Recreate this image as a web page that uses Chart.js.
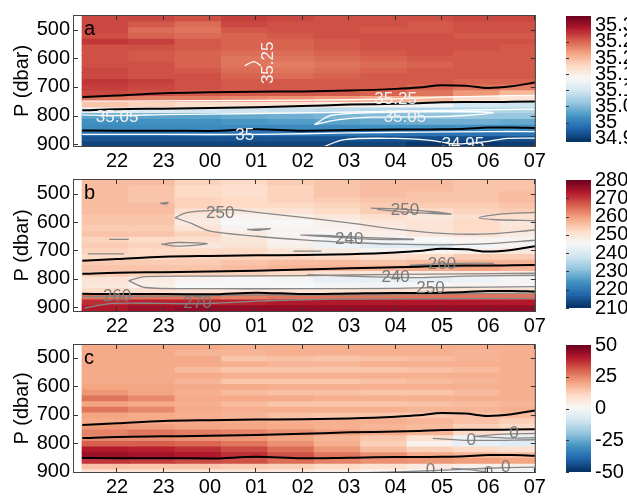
<!DOCTYPE html>
<html>
<head>
<meta charset="utf-8">
<script src="https://cdn.jsdelivr.net/npm/chart.js@4.4.1/dist/chart.umd.min.js"></script>
<style>
    html, body { margin: 0; padding: 0; width: 627px; height: 500px; overflow: hidden; background: #fff; }
    canvas { position: absolute; }
</style>
</head>
<body>
<canvas id="panelA"></canvas>
<canvas id="panelB"></canvas>
<canvas id="panelC"></canvas>
<canvas id="barA"></canvas>
<canvas id="barB"></canvas>
<canvas id="barC"></canvas>
<script>
// time in hours from 00 of the first day (00 = 24, 07 = 31)
const colHours = [21.75, 22.75, 23.75, 24.75, 25.75, 26.75, 27.75, 28.75, 29.75, 30.75];
const rowTops = [450, 470, 490, 510, 530, 550, 570, 590, 610, 630, 650, 670, 690, 710, 730, 750, 770, 790, 810, 830, 850, 870, 890, 910];
const rowStep = 20;

const xTickHours = [22, 23, 24, 25, 26, 27, 28, 29, 30, 31];
const xTickLabels = ['22', '23', '00', '01', '02', '03', '04', '05', '06', '07'];
const yTicks = [500, 600, 700, 800, 900];

// panel a
const salinity = [
    [35.265, 35.265, 35.26, 35.27, 35.265, 35.26, 35.26, 35.26, 35.265, 35.265],
    [35.265, 35.255, 35.245, 35.265, 35.26, 35.26, 35.26, 35.255, 35.26, 35.26],
    [35.265, 35.245, 35.24, 35.255, 35.26, 35.26, 35.255, 35.255, 35.26, 35.26],
    [35.26, 35.25, 35.245, 35.25, 35.255, 35.26, 35.26, 35.26, 35.255, 35.255],
    [35.275, 35.27, 35.255, 35.25, 35.25, 35.255, 35.26, 35.26, 35.26, 35.26],
    [35.26, 35.26, 35.255, 35.25, 35.25, 35.255, 35.26, 35.26, 35.26, 35.255],
    [35.26, 35.255, 35.25, 35.245, 35.245, 35.25, 35.255, 35.26, 35.255, 35.255],
    [35.26, 35.255, 35.25, 35.24, 35.24, 35.245, 35.25, 35.255, 35.255, 35.255],
    [35.26, 35.26, 35.25, 35.24, 35.235, 35.24, 35.245, 35.25, 35.255, 35.255],
    [35.265, 35.26, 35.255, 35.245, 35.24, 35.245, 35.25, 35.255, 35.255, 35.255],
    [35.265, 35.26, 35.26, 35.25, 35.245, 35.25, 35.255, 35.255, 35.255, 35.255],
    [35.275, 35.27, 35.26, 35.255, 35.255, 35.255, 35.255, 35.255, 35.25, 35.25],
    [35.27, 35.265, 35.26, 35.255, 35.255, 35.255, 35.255, 35.25, 35.24, 35.235],
    [35.265, 35.26, 35.255, 35.255, 35.255, 35.255, 35.25, 35.24, 35.22, 35.2],
    [35.24, 35.235, 35.235, 35.23, 35.225, 35.22, 35.21, 35.2, 35.17, 35.16],
    [35.19, 35.18, 35.17, 35.165, 35.16, 35.15, 35.14, 35.13, 35.1, 35.095],
    [35.12, 35.11, 35.1, 35.095, 35.09, 35.085, 35.08, 35.075, 35.075, 35.075],
    [35.03, 35.03, 35.03, 35.035, 35.04, 35.045, 35.05, 35.055, 35.06, 35.06],
    [35.015, 35.015, 35.015, 35.02, 35.025, 35.03, 35.035, 35.04, 35.04, 35.035],
    [35.01, 35.01, 35.01, 35.01, 35.01, 35.01, 35.015, 35.015, 35.015, 35.015],
    [34.99, 34.99, 34.99, 34.99, 34.99, 34.99, 34.99, 34.99, 34.99, 34.99],
    [34.965, 34.965, 34.965, 34.965, 34.965, 34.965, 34.965, 34.96, 34.96, 34.96],
    [34.955, 34.955, 34.955, 34.955, 34.955, 34.955, 34.955, 34.945, 34.945, 34.95],
    [34.95, 34.95, 34.95, 34.95, 34.95, 34.945, 34.945, 34.945, 34.945, 34.945]
];

// panel b
const fieldB = [
    [256, 256, 253, 252, 254, 255, 256, 256, 255, 255],
    [256, 255, 252, 251, 253, 255, 256, 256, 255, 255],
    [256, 255, 252, 251, 253, 255, 256, 255, 255, 256],
    [256, 255, 253, 252, 253, 254, 255, 255, 255, 256],
    [256, 256, 253, 252, 252, 253, 254, 254, 254, 255],
    [256, 256, 251, 249, 250, 252, 254, 252, 253, 254],
    [255, 255, 249, 246, 247, 249, 251, 249, 251, 251],
    [255, 255, 248, 245, 245, 247, 249, 250, 252, 249],
    [254, 254, 250, 246, 246, 246, 248, 250, 252, 250],
    [255, 255, 253, 248, 246, 245, 247, 249, 251, 248],
    [253, 252, 251, 249, 246, 244, 244, 245, 246, 246],
    [254, 253, 249, 250, 247, 243, 241, 241, 244, 246],
    [253, 252, 252, 252, 250, 248, 246, 246, 247, 249],
    [252, 252, 253, 253, 253, 252, 251, 252, 254, 254],
    [254, 254, 254, 255, 256, 256, 255, 256, 257, 257],
    [255, 255, 255, 256, 257, 257, 257, 258, 259, 257],
    [254, 253, 253, 253, 252, 250, 249, 248, 248, 248],
    [250, 248, 246, 245, 244, 242, 242, 242, 243, 244],
    [249, 247, 245, 245, 245, 244, 244, 245, 246, 246],
    [252, 251, 250, 250, 250, 250, 251, 250, 250, 250],
    [264, 264, 264, 263, 264, 264, 264, 264, 264, 264],
    [271, 272, 272, 272, 273, 273, 273, 273, 273, 273],
    [273, 275, 276, 276, 276, 276, 276, 276, 276, 276],
    [274, 276, 277, 277, 277, 277, 277, 277, 277, 277]
];

// panel c
const fieldC = [
    [19, 19, 19, 18, 18, 18, 18, 18, 18, 18],
    [19, 19, 17, 17, 18, 18, 18, 18, 17, 18],
    [19, 19, 19, 14, 15, 14, 15, 16, 17, 18],
    [19, 19, 19, 18, 17, 17, 18, 18, 18, 18],
    [19, 19, 16, 14, 14, 14, 14, 15, 16, 18],
    [19, 19, 19, 18, 18, 18, 18, 18, 18, 18],
    [19, 19, 17, 14, 14, 14, 15, 16, 17, 18],
    [20, 20, 19, 19, 18, 18, 18, 18, 18, 18],
    [22, 20, 18, 16, 15, 15, 14, 14, 16, 18],
    [27, 24, 19, 19, 19, 18, 18, 18, 18, 18],
    [20, 19, 18, 16, 14, 14, 14, 15, 16, 17],
    [27, 24, 19, 18, 18, 18, 18, 17, 17, 18],
    [20, 19, 18, 17, 15, 14, 14, 14, 15, 16],
    [19, 19, 19, 19, 18, 18, 18, 17, 15, 12],
    [22, 21, 20, 20, 19, 18, 17, 16, 12, 10],
    [25, 27, 26, 25, 23, 21, 19, 17, 10, 5],
    [24, 24, 23, 22, 20, 17, 14, 8, -2, -4],
    [30, 30, 29, 27, 23, 18, 12, 2, -4, -6],
    [40, 39, 37, 33, 28, 22, 16, 12, 10, 8],
    [43, 42, 40, 37, 32, 27, 23, 19, 17, 16],
    [36, 35, 33, 32, 28, 25, 23, 22, 21, 20],
    [15, 14, 14, 13, 12, 10, 8, 5, 3, 3],
    [8, 8, 7, 7, 6, 4, 2, 0, -3, -2],
    [6, 6, 5, 5, 4, 2, 0, -2, -4, -4]
];

// the three black lines, same in every panel
const isoHours = [21.25, 22, 23, 24, 25, 26, 27, 28, 28.5, 29, 29.5, 30, 30.5, 31];
const isoUpper = [736, 730, 722, 719, 717, 716, 713, 707, 702, 694, 696, 704, 698, 685];
const isoMiddle = [782, 778, 776, 774, 771, 767, 762, 759, 757, 754, 753, 753, 752, 751];
const isoLower = [852, 853, 853, 854, 848, 853, 851, 849, 849, 848, 846, 842, 842, 844];

// thin contour lines [hour, dbar]
const contoursA = [
    [[21.25, 750], [23, 749], [25, 747], [27, 745], [28, 742], [29, 736], [30, 732], [31, 730]],
    [[21.25, 798], [22, 800], [23, 797], [25, 793], [27, 788], [29, 782], [31, 778]],
    [[26.25, 832], [26.7, 816], [27.5, 806], [28.8, 804], [29.5, 800], [30.1, 790], [29, 786], [27.5, 790], [26.6, 800], [26.25, 832]],
    [[21.25, 866], [23, 866], [25, 866], [27, 861], [28.5, 858], [30, 856], [31, 856]],
    [[26.4, 912], [26.9, 884], [28, 880], [28.7, 886], [29.3, 899], [30, 890], [30.4, 880], [31, 879]],
    [[24.75, 626], [24.95, 612], [25.1, 626]]
];
const labelsA = [
    { text: '35.05', h: 22.0, p: 805 },
    { text: '35', h: 24.75, p: 868 },
    { text: '35.25', h: 28.0, p: 745 },
    { text: '35.05', h: 28.2, p: 808 },
    { text: '34.95', h: 29.45, p: 900 },
    { text: '35.25', h: 25.25, p: 616, rot: -90 }
];

const contoursB = [
    [[23.25, 585], [23.5, 567], [24, 560], [24.5, 557], [25, 566], [26, 584], [27, 603], [28, 625], [29, 640], [30, 642], [31, 628]],
    [[23.25, 585], [23.6, 605], [24, 632], [25, 650], [26, 663], [27, 672], [28, 678], [29, 680], [30, 676], [31, 664]],
    [[28.4, 660], [27.4, 655], [26.6, 648], [25.95, 646], [26.6, 652], [27.4, 660], [28.4, 662]],
    [[24.8, 626], [25.3, 623], [25.05, 629], [24.8, 626]],
    [[25.8, 702], [26.4, 702]],
    [[21.83, 661], [22.25, 661]],
    [[21.37, 712], [22.15, 712]],
    [[22.95, 678], [23.3, 672], [23.95, 676], [23.3, 685], [22.95, 678]],
    [[22.93, 534], [23.1, 531], [23.05, 537], [22.93, 534]],
    [[27.47, 551], [28.2, 556], [29.2, 572], [28.2, 565], [27.6, 556]],
    [[31, 566], [30.2, 573], [29.8, 585], [30.2, 592], [31, 595]],
    [[28.3, 752], [29, 746], [30.1, 745], [30.1, 753], [29, 757], [28.3, 752]],
    [[26.1, 785], [27.5, 793], [28.5, 795], [29.5, 790], [31, 787]],
    [[22.25, 806], [22.6, 792], [24, 790], [26, 788], [28, 784], [31, 780]],
    [[22.25, 806], [22.6, 830], [24, 834], [26, 834], [28, 833], [29, 830], [31, 827]],
    [[21.25, 862], [23, 860], [25, 857], [27, 856], [29, 852], [31, 850]],
    [[21.3, 902], [21.9, 886], [23, 886], [24, 886], [25, 878], [26, 873], [27.5, 870], [31, 868]]
];
const labelsB = [
    { text: '250', h: 24.22, p: 571 },
    { text: '250', h: 28.2, p: 560 },
    { text: '240', h: 27.0, p: 662 },
    { text: '260', h: 29.0, p: 748 },
    { text: '240', h: 28.0, p: 795 },
    { text: '250', h: 28.75, p: 834 },
    { text: '260', h: 22.0, p: 862 },
    { text: '270', h: 23.73, p: 887 }
];

const contoursC = [
    [[28.8, 783], [29.63, 790], [31, 788]],
    [[29.7, 776], [30.3, 768], [31, 766]],
    [[29.7, 776], [30.4, 782], [31, 781]],
    [[26.6, 906], [27.6, 903], [28.75, 897], [29.6, 891], [30.4, 886], [31, 884]],
    [[29.2, 889], [29.6, 893], [30.0, 903]]
];
const labelsC = [
    { text: '0', h: 29.63, p: 790 },
    { text: '0', h: 30.55, p: 766 },
    { text: '0', h: 28.75, p: 896 },
    { text: '0', h: 30.37, p: 885 },
    { text: '0', h: 30.0, p: 905 }
];

// colour bars
const rangeA = [34.94, 35.33];
const rangeB = [210, 280];
const rangeC = [-50, 50];
const cbTicksA = [35.3, 35.25, 35.2, 35.15, 35.1, 35.05, 35, 34.95];
const cbLabelsA = ['35.3', '35.25', '35.2', '35.15', '35.1', '35.05', '35', '34.95'];
const cbTicksB = [280, 270, 260, 250, 240, 230, 220, 210];
const cbLabelsB = ['280', '270', '260', '250', '240', '230', '220', '210'];
const cbTicksC = [50, 25, 0, -25, -50];
const cbLabelsC = ['50', '25', '0', '-25', '-50'];

const fontFamily = '"Liberation Sans", Arial, Helvetica, sans-serif';
const rdbu = ['#053061', '#2166ac', '#4393c3', '#92c5de', '#d1e5f0', '#f7f7f7',
              '#fddbc7', '#f4a582', '#d6604d', '#b2182b', '#67001f'];

function hexRgb(h) {
    return [parseInt(h.slice(1, 3), 16), parseInt(h.slice(3, 5), 16), parseInt(h.slice(5, 7), 16)];
}

function colourFor(v, range) {
    let t = (v - range[0]) / (range[1] - range[0]);
    t = Math.max(0, Math.min(1, t)) * 10;
    const i = Math.min(9, Math.floor(t));
    const f = t - i;
    const a = hexRgb(rdbu[i]), b = hexRgb(rdbu[i + 1]);
    const c = a.map((x, k) => Math.round(x + (b[k] - x) * f));
    return `rgb(${c[0]},${c[1]},${c[2]})`;
}

// box, inward ticks, panel letter and contour labels
const framePlugin = {
    id: 'frame',
    afterDatasetsDraw(chart, args, opts) {
        const { ctx, chartArea: a, scales: { x, y } } = chart;
        ctx.save();
        ctx.beginPath();
        ctx.rect(a.left, a.top, a.right - a.left, a.bottom - a.top);
        ctx.clip();
        ctx.fillStyle = opts.labelColour;
        ctx.font = '17px ' + fontFamily;
        ctx.textAlign = 'center';
        ctx.textBaseline = 'middle';
        opts.labels.forEach(l => {
            ctx.save();
            ctx.translate(x.getPixelForValue(l.h), y.getPixelForValue(l.p));
            if (l.rot) ctx.rotate(l.rot * Math.PI / 180);
            ctx.fillText(l.text, 0, 0);
            ctx.restore();
        });
        ctx.restore();

        ctx.save();
        ctx.strokeStyle = '#333';
        ctx.lineWidth = 1;
        ctx.beginPath();
        xTickHours.forEach(h => {
            const px = Math.round(x.getPixelForValue(h)) - 0.5;
            ctx.moveTo(px, a.top); ctx.lineTo(px, a.top + 5);
            ctx.moveTo(px, a.bottom); ctx.lineTo(px, a.bottom - 5);
        });
        yTicks.forEach(p => {
            const py = Math.round(y.getPixelForValue(p)) + 0.5;
            ctx.moveTo(a.left, py); ctx.lineTo(a.left + 5, py);
            ctx.moveTo(a.right, py); ctx.lineTo(a.right - 5, py);
        });
        ctx.stroke();
        ctx.strokeStyle = '#444';
        ctx.strokeRect(a.left + 0.5, a.top + 0.5, a.right - a.left - 1, a.bottom - a.top - 1);
        ctx.fillStyle = '#000';
        ctx.font = '20px ' + fontFamily;
        ctx.textAlign = 'left';
        ctx.textBaseline = 'alphabetic';
        ctx.fillText(opts.letter, a.left + 11, a.top + 19.5);
        ctx.restore();
    }
};

function makePanel(id, box, pRange, field, range, letter, contours, labels, lineColour) {
    const cv = document.getElementById(id);
    const W = 548, H = box.bottom - box.top + 37;
    cv.width = W; cv.height = H;
    cv.style.left = '0px';
    cv.style.top = (box.top - 11) + 'px';

    const datasets = [];
    [isoUpper, isoMiddle, isoLower].forEach(iso => {
        datasets.push({
            type: 'line',
            data: isoHours.map((h, i) => ({ x: h, y: iso[i] })),
            borderColor: '#000', borderWidth: 2, pointRadius: 0,
            cubicInterpolationMode: 'monotone', order: 0
        });
    });
    contours.forEach(c => {
        datasets.push({
            type: 'line',
            data: c.map(pt => ({ x: pt[0], y: pt[1] })),
            borderColor: lineColour, borderWidth: 1.3, pointRadius: 0,
            tension: 0.3, order: 1
        });
    });
    rowTops.forEach((p, i) => {
        datasets.push({
            type: 'bar',
            data: colHours.map(h => ({ x: h, y: [p, p + rowStep] })),
            backgroundColor: field[i].map(v => colourFor(v, range)),
            borderWidth: 0, grouped: false,
            barPercentage: 1, categoryPercentage: 1, inflateAmount: 0.6,
            order: 10
        });
    });

    new Chart(cv, {
        type: 'bar',
        data: { datasets },
        options: {
            responsive: false,
            animation: false,
            events: [],
            layout: { padding: { top: 11, right: 2, left: 0, bottom: 0 } },
            plugins: {
                legend: { display: false },
                tooltip: { enabled: false },
                frame: { letter, labels, labelColour: lineColour === '#ffffff' ? '#f2f2f2' : '#7a7a7a' }
            },
            scales: {
                x: {
                    type: 'linear', min: 21.05, max: 31.02, offset: false,
                    grid: { display: false, drawTicks: false, offset: false },
                    border: { display: false },
                    afterBuildTicks: s => { s.ticks = xTickHours.map(v => ({ value: v })); },
                    afterFit: s => { s.height = 26; },
                    ticks: {
                        padding: 2, color: '#000', autoSkip: false, maxRotation: 0,
                        font: { family: fontFamily, size: 20 },
                        callback: v => xTickLabels[xTickHours.indexOf(v)]
                    }
                },
                y: {
                    type: 'linear', reverse: true, min: pRange[0], max: pRange[1],
                    grid: { display: false, drawTicks: false },
                    border: { display: false },
                    afterBuildTicks: s => { s.ticks = yTicks.map(v => ({ value: v })); },
                    afterFit: s => { s.width = 73; },
                    ticks: { padding: 3, color: '#000', font: { family: fontFamily, size: 20 } },
                    title: {
                        display: true, text: 'P (dbar)', color: '#000',
                        font: { family: fontFamily, size: 20 },
                        padding: { top: 10, bottom: 0 }
                    }
                }
            }
        },
        plugins: [framePlugin]
    });
}

const cbTickPlugin = {
    id: 'cbTicks',
    afterDatasetsDraw(chart, args, opts) {
        const { ctx, chartArea: a, scales: { y } } = chart;
        ctx.save();
        ctx.strokeStyle = '#333';
        ctx.beginPath();
        opts.ticks.forEach(v => {
            const py = Math.round(y.getPixelForValue(v)) + 0.5;
            ctx.moveTo(a.left, py); ctx.lineTo(a.left + 3, py);
        });
        ctx.stroke();
        ctx.restore();
    }
};

function makeColourbar(id, box, range, ticks, tickLabels) {
    const cv = document.getElementById(id);
    const W = 200, H = box.bottom - box.top + 22;
    cv.width = W; cv.height = H;
    cv.style.left = '560px';
    cv.style.top = (box.top - 11) + 'px';
    const n = 56;
    const datasets = [];
    for (let i = 0; i < n; i++) {
        const lo = range[0] + (range[1] - range[0]) * i / n;
        const hi = range[0] + (range[1] - range[0]) * (i + 1) / n;
        datasets.push({
            data: [[lo, hi]],
            backgroundColor: colourFor((lo + hi) / 2, range),
            borderWidth: 0, grouped: false,
            barPercentage: 1, categoryPercentage: 1, inflateAmount: 0.5
        });
    }
    new Chart(cv, {
        type: 'bar',
        data: { labels: [''], datasets },
        options: {
            responsive: false,
            animation: false,
            events: [],
            layout: { padding: { left: 6, top: 11, bottom: 11, right: 0 } },
            plugins: { legend: { display: false }, tooltip: { enabled: false }, cbTicks: { ticks } },
            scales: {
                x: { display: false },
                y: {
                    position: 'right', min: range[0], max: range[1],
                    grid: { display: false, drawTicks: false },
                    border: { display: false },
                    afterBuildTicks: s => { s.ticks = ticks.map(v => ({ value: v })); },
                    afterFit: s => { s.width = W - 6 - 25; },
                    ticks: {
                        padding: 4, color: '#000', autoSkip: false,
                        font: { family: fontFamily, size: 20 },
                        callback: v => tickLabels[ticks.indexOf(v)]
                    }
                }
            }
        },
        plugins: [cbTickPlugin]
    });
}

makePanel('panelA', { top: 11, bottom: 147 }, [449, 910], salinity, rangeA, 'a', contoursA, labelsA, '#ffffff');
makePanel('panelB', { top: 175, bottom: 312 }, [449, 916], fieldB, rangeB, 'b', contoursB, labelsB, '#888888');
makePanel('panelC', { top: 340, bottom: 473 }, [451, 905], fieldC, rangeC, 'c', contoursC, labelsC, '#888888');

makeColourbar('barA', { top: 11, bottom: 147 }, rangeA, cbTicksA, cbLabelsA);
makeColourbar('barB', { top: 175, bottom: 313 }, rangeB, cbTicksB, cbLabelsB);
makeColourbar('barC', { top: 340, bottom: 477 }, rangeC, cbTicksC, cbLabelsC);
</script>
</body>
</html>
